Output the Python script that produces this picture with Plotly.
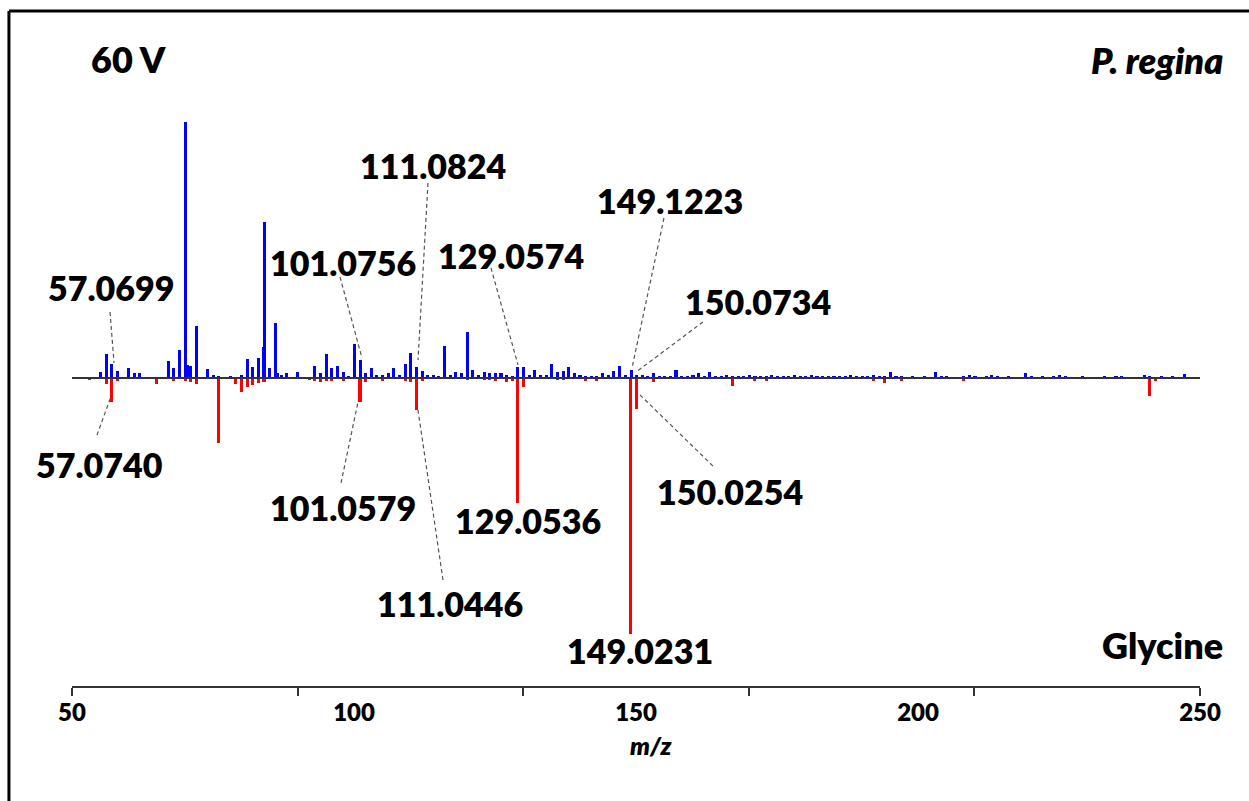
import plotly.graph_objects as go

# ---- spectrum data (relative intensity, %) ----
# upper trace: P. regina
blue_mz = [55.05, 56.05, 57.0699, 58.07, 60.04, 61.04, 62.04, 67.05, 68.05, 69.07,
           70.0651, 70.5, 71.07, 72.08, 74.06, 75.07, 76.04, 78.05, 80.05, 81.07,
           82.07, 83.09, 83.95, 84.08, 85.09, 86.10, 86.5, 87.1, 88.07, 90.06,
           93.07, 94.07, 95.09, 96.08, 97.08, 98.06, 99.04, 100.08, 101.0756, 102.06,
           103.05, 104.05, 105.07, 106.07, 107.07, 108.08, 109.07, 110.07, 111.0824, 112.08,
           113.07, 114.07, 115.05, 116.07, 117.07, 118.07, 119.07, 120.08, 121.07, 122.07,
           123.07, 124.07, 125.07, 126.07, 127.07, 128.07, 129.0574, 130.07, 131.07, 132.08,
           133.07, 134.07, 135.08, 136.07, 137.07, 138.07, 139.07, 140.07, 141.07, 142.07,
           143.07, 144.07, 145.07, 146.07, 147.07, 148.07, 149.1223, 150.0734, 151.1, 152.1,
           153.1, 154.1, 155.1, 156.1, 157.1, 158.1, 159.1, 160.1, 161.1, 162.1,
           163.1, 164.1, 165.1, 166.1, 167.1, 168.1, 169.1, 170.1, 171.1, 172.1,
           173.1, 174.1, 175.1, 176.1, 177.1, 178.1, 179.1, 180.1, 181.1, 182.1,
           183.1, 184.1, 185.1, 186.1, 187.1, 188.1, 189.1, 190.1, 191.1, 192.1,
           193.1, 194.1, 195.1, 196.1, 197.1, 199.1, 201.1, 203.1, 204.1, 205.1,
           208.1, 209.1, 210.1, 212.1, 213.1, 214.1, 216.1, 219.1, 220.1, 222.1,
           224.1, 225.1, 226.1, 229.1, 233.1, 235.1, 236.1, 240.1, 241.1, 243.1,
           245.1, 247.2]
blue_int = [2.3, 9.3, 5.5, 2.9, 3.9, 2.1, 1.8, 6.8, 3.8, 10.9,
            100.0, 5.0, 4.7, 20.4, 3.6, 1.0, 0.5, 0.5, 1.0, 7.5,
            4.4, 7.8, 12.2, 60.9, 3.9, 21.4, 1.8, 1.0, 1.8, 2.3,
            4.8, 1.8, 9.3, 3.8, 4.8, 2.5, 0.8, 13.3, 7.0, 2.0,
            3.8, 1.3, 1.3, 2.0, 3.9, 1.3, 5.3, 9.9, 4.4, 2.9,
            1.0, 1.0, 0.5, 12.5, 1.0, 2.3, 1.8, 17.8, 3.1, 1.0,
            2.3, 1.8, 1.8, 2.0, 1.0, 0.5, 4.2, 4.4, 1.0, 3.1,
            1.0, 1.0, 5.4, 2.3, 2.9, 4.3, 1.8, 1.0, 0.6, 0.6,
            0.6, 1.8, 1.0, 2.6, 4.6, 1.0, 3.2, 1.3, 1.0, 0.8,
            1.8, 0.5, 0.6, 0.5, 3.0, 0.8, 0.6, 1.3, 2.0, 0.6,
            2.2, 0.6, 0.8, 1.2, 0.6, 0.8, 0.6, 1.0, 0.6, 0.8,
            0.6, 1.0, 0.8, 0.6, 0.5, 1.0, 0.6, 0.8, 1.2, 0.5,
            0.6, 0.5, 0.8, 0.5, 0.6, 1.0, 0.6, 0.5, 0.8, 1.0,
            0.8, 0.5, 2.2, 0.8, 0.6, 0.5, 0.6, 2.5, 0.8, 0.6,
            0.6, 1.3, 0.6, 0.8, 1.0, 0.6, 0.5, 2.0, 0.6, 0.5,
            0.6, 1.0, 0.6, 0.5, 0.5, 0.6, 0.6, 1.0, 0.8, 0.5,
            0.6, 1.5]

# lower (mirrored) trace: Glycine
red_mz = [53.04, 56.05, 57.0740, 58.07, 65.04, 68.05, 70.07, 71.05, 72.04, 76.0393,
          79.05, 80.05, 81.07, 82.07, 83.06, 84.04, 92.06, 93.07, 94.07, 95.06,
          96.06, 98.06, 101.0579, 102.06, 105.07, 109.07, 110.07, 111.0446, 112.08, 120.08,
          123.07, 124.07, 125.07, 127.07, 128.07, 129.0536, 130.05, 136.07, 137.07, 141.07,
          143.07, 149.0231, 150.0254, 153.07, 167.05, 171.07, 173.07, 192.07, 194.07, 197.07,
          208.07, 241.07, 242.07]
red_int = [0.8, 2.3, 9.3, 1.0, 2.3, 1.3, 1.3, 1.7, 2.3, 25.5,
           2.3, 5.6, 3.6, 2.6, 2.0, 1.4, 0.8, 1.2, 1.5, 1.2,
           1.0, 1.0, 9.4, 1.6, 1.2, 1.2, 1.4, 12.5, 1.2, 0.8,
           0.8, 0.8, 1.0, 1.4, 1.0, 48.8, 3.4, 0.8, 0.8, 1.2,
           1.0, 100.0, 12.0, 1.4, 3.2, 1.0, 1.3, 1.0, 2.0, 1.0,
           1.3, 7.0, 1.3]

blue_labelled = [57.0699, 101.0756, 111.0824, 129.0574, 149.1223, 150.0734]
red_labelled = [57.0740, 101.0579, 111.0446, 129.0536, 149.0231, 150.0254]

tick_label_vals = [50, 100, 150, 200, 250]
tick_mark_vals = [50, 90, 130, 170, 210, 250]

# ---- label placement: text centre and optional dashed leader (data units) ----
label_place = {
    57.0699: dict(text=(56.9, 35.5), leader=((56.74, 25.8), (57.45, 5.9))),
    101.0756: dict(text=(98.05, 45.3), leader=((97.52, 39.5), (101.42, 7.8))),
    111.0824: dict(text=(114.0, 83.2), leader=((113.12, 76.2), (111.35, 7.0))),
    129.0574: dict(text=(127.84, 47.7), leader=((124.29, 43.0), (129.08, 5.1))),
    149.1223: dict(text=(156.03, 69.5), leader=((154.96, 62.5), (149.29, 3.9))),
    150.0734: dict(text=(171.63, 29.7), leader=((161.88, 21.9), (150.0, 2.3))),
    57.0740: dict(text=(54.79, -33.6), leader=((54.43, -22.3), (56.95, -7.0))),
    101.0579: dict(text=(98.05, -50.4), leader=((97.7, -41.0), (100.71, -9.4))),
    111.0446: dict(text=(117.0, -87.9), leader=((115.78, -78.9), (111.35, -12.5))),
    129.0536: dict(text=(130.85, -55.5), leader=None),
    150.0254: dict(text=(166.67, -44.5), leader=((163.65, -34.4), (150.7, -6.6))),
    149.0231: dict(text=(150.7, -106.3), leader=None),
}

FONT = "Lato"
X_RANGE = [50, 250]
Y_RANGE = [-120.31, 108.59]
BAR_W = 0.55

fig = go.Figure()
fig.add_trace(go.Bar(x=blue_mz, y=blue_int, width=BAR_W,
                     marker=dict(color="#0000FF", line=dict(width=0)),
                     name="P. regina", showlegend=False))
fig.add_trace(go.Bar(x=red_mz, y=[-v for v in red_int], width=BAR_W,
                     marker=dict(color="#FF0000", line=dict(width=0)),
                     name="Glycine", showlegend=False))
# invisible trace so the labelled second x-axis is drawn
fig.add_trace(go.Scatter(x=[X_RANGE[0]], y=[0], xaxis="x2", mode="markers",
                         marker=dict(opacity=0), showlegend=False, hoverinfo="skip"))

shapes = []
annotations = []
for mz in blue_labelled + red_labelled:
    p = label_place[mz]
    tx, ty = p["text"]
    annotations.append(dict(x=tx, y=ty, xref="x", yref="y", text=f"{mz:.4f}",
                            showarrow=False, xanchor="center", yanchor="middle",
                            font=dict(family=FONT, size=34, color="#000000", weight=800)))
    if p["leader"]:
        (x0, y0), (x1, y1) = p["leader"]
        shapes.append(dict(type="line", xref="x", yref="y", x0=x0, y0=y0, x1=x1, y1=y1,
                           line=dict(color="#555555", width=1.2, dash="4px,3px")))

# baseline of the mirrored spectrum
shapes.append(dict(type="line", xref="x", yref="y", x0=X_RANGE[0], x1=X_RANGE[1], y0=0, y1=0,
                   line=dict(color="#333333", width=2), layer="above"))

# frame lines along the left and top edges
shapes.append(dict(type="line", xref="paper", yref="paper", x0=-0.0559, x1=-0.0559,
                   y0=-0.2, y1=1.1519, line=dict(color="#000000", width=3)))
shapes.append(dict(type="line", xref="paper", yref="paper", x0=-0.0559, x1=1.05,
                   y0=1.1519, y1=1.1519, line=dict(color="#000000", width=3)))

title_font = dict(family=FONT, size=36, color="#000", weight=800)
annotations += [
    dict(x=0.0505, y=1.070, xref="paper", yref="paper", text="60 V", showarrow=False,
         xanchor="center", yanchor="middle", font=title_font),
    dict(x=1.0222, y=1.068, xref="paper", yref="paper", text="<i>P. regina</i>",
         showarrow=False, xanchor="right", yanchor="middle", font=title_font),
    dict(x=1.0222, y=0.070, xref="paper", yref="paper", text="Glycine",
         showarrow=False, xanchor="right", yanchor="middle", font=title_font),
    dict(x=0.513, y=-0.100, xref="paper", yref="paper", text="<i>m/z</i>",
         showarrow=False, xanchor="center", yanchor="middle",
         font=dict(family=FONT, size=25, color="#000", weight=800)),
]

fig.update_layout(
    width=1249, height=801,
    margin=dict(l=72, r=49, t=100, b=115),
    paper_bgcolor="#FFFFFF", plot_bgcolor="#FFFFFF",
    barmode="overlay", bargap=0,
    shapes=shapes, annotations=annotations,
    xaxis=dict(range=X_RANGE, showgrid=False, zeroline=False,
               showline=True, linecolor="#333333", linewidth=1.5,
               tickmode="array", tickvals=tick_mark_vals, showticklabels=False,
               ticks="outside", ticklen=8, tickwidth=1.5, tickcolor="#333333"),
    xaxis2=dict(range=X_RANGE, overlaying="x", anchor="y", side="bottom",
                showgrid=False, zeroline=False, showline=False,
                tickmode="array", tickvals=tick_label_vals,
                ticks="outside", ticklen=5, tickcolor="rgba(0,0,0,0)",
                tickfont=dict(family=FONT, size=24, color="#000000", weight=800)),
    yaxis=dict(range=Y_RANGE, visible=False, showgrid=False, zeroline=False),
)

fig.write_html("out.html")
